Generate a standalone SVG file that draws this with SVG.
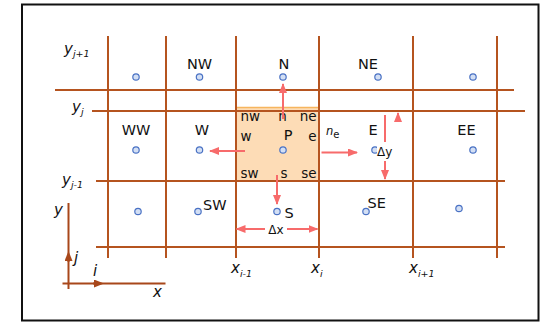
<svg xmlns="http://www.w3.org/2000/svg" width="541" height="323" viewBox="0 0 541 323">
  <style>
    .grid { stroke: #b5541f; stroke-width: 2; fill: none; }
    .pt { fill: #d3dff4; stroke: #4a72c4; stroke-width: 1.2; }
    .lbl { font-family: "DejaVu Sans", Verdana, sans-serif; font-size: 14.5px; fill: #111; }
    .face { font-family: "DejaVu Sans", Verdana, sans-serif; font-size: 13.5px; fill: #111; }
    .small { font-family: "DejaVu Sans", Verdana, sans-serif; font-size: 12px; fill: #111; }
    .it { font-family: "DejaVu Sans", Verdana, sans-serif; font-style: italic; font-size: 15px; fill: #111; }
    .sub { font-family: "DejaVu Sans", Verdana, sans-serif; font-style: italic; font-size: 9.5px; fill: #111; }
    .arr { stroke: #f76b6b; stroke-width: 2; fill: none; }
    .axis { stroke: #a8471a; stroke-width: 2; fill: none; }
  </style>
  <defs>
    <marker id="head" markerUnits="userSpaceOnUse" markerWidth="10" markerHeight="8" refX="9" refY="4" orient="auto">
      <path d="M0,0 L10,4 L0,8 Z" fill="#f76b6b"/>
    </marker>
    <marker id="axhead" markerUnits="userSpaceOnUse" markerWidth="10" markerHeight="8" refX="5" refY="4" orient="auto">
      <path d="M0,0 L10,4 L0,8 Z" fill="#a8471a"/>
    </marker>
  </defs>

  <rect x="0" y="0" width="541" height="323" fill="#fff"/>
  <!-- frame -->
  <rect x="22" y="4.5" width="516.5" height="316" fill="none" stroke="#111" stroke-width="2"/>

  <!-- control volume P (shaded) -->
  <g id="cellP">
    <rect x="236" y="107" width="83" height="74" fill="#fddcb6"/>
    <line x1="236" y1="107.5" x2="319" y2="107.5" stroke="#f6b55e" stroke-width="1.5"/>
  </g>

  <!-- mesh lines -->
  <g id="grid" class="grid">
    <line x1="108" y1="36" x2="108" y2="258"/>
    <line x1="166" y1="36" x2="166" y2="258"/>
    <line x1="236" y1="36" x2="236" y2="258"/>
    <line x1="319" y1="36" x2="319" y2="258"/>
    <line x1="413" y1="36" x2="413" y2="258"/>
    <line x1="497" y1="36" x2="497" y2="258"/>
    <line x1="55" y1="90" x2="514" y2="90"/>
    <line x1="92" y1="111" x2="525" y2="111"/>
    <line x1="96" y1="181" x2="505" y2="181"/>
    <line x1="96" y1="247" x2="505" y2="247"/>
  </g>

  <!-- nodes -->
  <g id="node-NWW"><circle class="pt" cx="136" cy="77" r="3.2"/></g>
  <g id="node-NW"><circle class="pt" cx="199.5" cy="77" r="3.2"/><text class="lbl" x="199.5" y="69" text-anchor="middle">NW</text></g>
  <g id="node-N"><circle class="pt" cx="283" cy="77" r="3.2"/><text class="lbl" x="284" y="69" text-anchor="middle">N</text></g>
  <g id="node-NE"><circle class="pt" cx="378" cy="77" r="3.2"/><text class="lbl" x="368" y="69" text-anchor="middle">NE</text></g>
  <g id="node-NEE"><circle class="pt" cx="473" cy="77" r="3.2"/></g>

  <g id="node-WW"><circle class="pt" cx="136" cy="150" r="3.2"/><text class="lbl" x="136" y="135" text-anchor="middle">WW</text></g>
  <g id="node-W"><circle class="pt" cx="199.5" cy="150" r="3.2"/><text class="lbl" x="202" y="135" text-anchor="middle">W</text></g>
  <g id="node-P">
    <circle class="pt" cx="283" cy="150" r="3.2"/>
    <text class="lbl" x="288" y="140" text-anchor="middle">P</text>
    <text class="face" x="240.5" y="121">nw</text>
    <text class="face" x="282.5" y="121" text-anchor="middle">n</text>
    <text class="face" x="316.5" y="121" text-anchor="end">ne</text>
    <text class="face" x="240.5" y="141">w</text>
    <text class="face" x="316.5" y="141" text-anchor="end">e</text>
    <text class="face" x="240.5" y="177.5">sw</text>
    <text class="face" x="284" y="177.5" text-anchor="middle">s</text>
    <text class="face" x="316.5" y="177.5" text-anchor="end">se</text>
  </g>
  <g id="node-E">
    <circle class="pt" cx="375" cy="150" r="3.2"/>
    <text class="lbl" x="373" y="135" text-anchor="middle">E</text>
  </g>
  <g id="node-EE"><circle class="pt" cx="473" cy="150" r="3.2"/><text class="lbl" x="466.5" y="135" text-anchor="middle">EE</text></g>

  <g id="node-SWW"><circle class="pt" cx="138" cy="211.5" r="3.2"/></g>
  <g id="node-SW"><circle class="pt" cx="198" cy="211.5" r="3.2"/><text class="lbl" x="203" y="210">SW</text></g>
  <g id="node-S"><circle class="pt" cx="277" cy="211.5" r="3.2"/><text class="lbl" x="284.5" y="218">S</text></g>
  <g id="node-SE"><circle class="pt" cx="366" cy="211.5" r="3.2"/><text class="lbl" x="367.5" y="208">SE</text></g>
  <g id="node-SEE"><circle class="pt" cx="459" cy="208.5" r="3.2"/></g>

  <!-- connectors -->
  <g id="connectors">
    <line class="arr" x1="283" y1="119" x2="283" y2="84" marker-end="url(#head)"/>
    <line class="arr" x1="245" y1="151" x2="210" y2="151" marker-end="url(#head)"/>
    <line class="arr" x1="321.5" y1="152.5" x2="357" y2="152.5" marker-end="url(#head)"/>
    <line class="arr" x1="277" y1="175" x2="277" y2="204" marker-end="url(#head)"/>
    <!-- Δy dimension -->
    <line class="arr" x1="385" y1="115" x2="385" y2="179" marker-end="url(#head)"/>
    <line class="arr" x1="398" y1="122" x2="398" y2="113" marker-end="url(#head)"/>
    <!-- Δx dimension -->
    <line class="arr" x1="265" y1="229" x2="236.5" y2="229" marker-end="url(#head)"/>
    <line class="arr" x1="287" y1="229" x2="317.5" y2="229" marker-end="url(#head)"/>
  </g>

  <!-- dimension and face-normal labels -->
  <rect x="377" y="142" width="17" height="19" fill="#fff"/>
  <text class="small" x="377" y="155.5">Δy</text>
  <text class="small" x="276" y="233.5" text-anchor="middle">Δx</text>
  <text x="326" y="135" font-family="DejaVu Sans, Verdana, sans-serif" font-size="11.5" font-style="italic" fill="#111">n<tspan font-style="normal" font-size="10" dy="3">e</tspan></text>

  <!-- grid index labels -->
  <text class="it" x="64" y="54">y<tspan class="sub" dy="3">j+1</tspan></text>
  <text class="it" x="72" y="112">y<tspan class="sub" dy="3">j</tspan></text>
  <text class="it" x="62" y="185">y<tspan class="sub" dy="3">j-1</tspan></text>
  <text class="it" x="231" y="273">x<tspan class="sub" dy="4">i-1</tspan></text>
  <text class="it" x="311" y="273">x<tspan class="sub" dy="4">i</tspan></text>
  <text class="it" x="409" y="273">x<tspan class="sub" dy="4">i+1</tspan></text>

  <!-- coordinate axes -->
  <g id="axes">
    <line class="axis" x1="68.5" y1="289" x2="68.5" y2="203"/>
    <line class="axis" x1="68.5" y1="262" x2="68.5" y2="256" marker-end="url(#axhead)"/>
    <line class="axis" x1="62.5" y1="283.5" x2="165.5" y2="283.5"/>
    <line class="axis" x1="93" y1="283.5" x2="99" y2="283.5" marker-end="url(#axhead)"/>
    <text class="it" x="54" y="215">y</text>
    <text class="it" x="74" y="263">j</text>
    <text class="it" x="93" y="276">i</text>
    <text class="it" x="153" y="297">x</text>
  </g>
</svg>
